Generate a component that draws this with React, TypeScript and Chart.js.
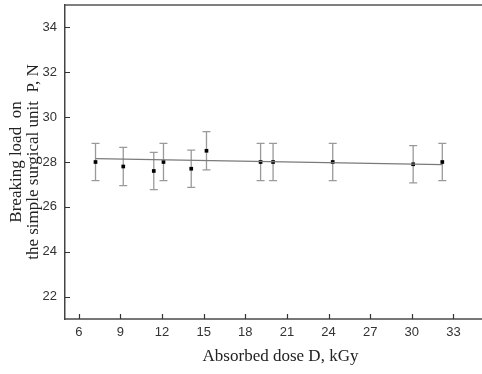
import React, { useEffect, useRef } from "react";
import { Chart, registerables } from "chart.js";

Chart.register(...registerables);

const doses = [7.2, 9.2, 11.4, 12.1, 14.1, 15.2, 19.1, 20.0, 24.3, 30.1, 32.2];
const loads = [28.0, 27.8, 27.6, 28.0, 27.7, 28.5, 28.0, 28.0, 28.0, 27.9, 28.0];
const errors = [0.83, 0.85, 0.83, 0.83, 0.83, 0.85, 0.83, 0.83, 0.83, 0.83, 0.83];
const fitX = [7.2, 32.2];
const fitY = [28.15, 27.88];
const xTicks = [6, 9, 12, 15, 18, 21, 24, 27, 30, 33];
const yTicks = [22, 24, 26, 28, 30, 32, 34];
const xTitle = "Absorbed dose D, kGy";
const yTitle = ["Breaking load  on", "the simple surgical unit  P, N"];

const decorPlugin = {
  id: "decor",
  beforeDatasetsDraw(chart: any) {
    const { ctx, scales } = chart;
    const x = scales.x;
    const y = scales.y;
    ctx.save();
    ctx.strokeStyle = "#9a9a9a";
    ctx.lineWidth = 1.3;
    doses.forEach((d, i) => {
      const px = x.getPixelForValue(d);
      const top = y.getPixelForValue(loads[i] + errors[i]);
      const bot = y.getPixelForValue(loads[i] - errors[i]);
      ctx.beginPath();
      ctx.moveTo(px, top);
      ctx.lineTo(px, bot);
      ctx.moveTo(px - 4, top);
      ctx.lineTo(px + 4, top);
      ctx.moveTo(px - 4, bot);
      ctx.lineTo(px + 4, bot);
      ctx.stroke();
    });
    ctx.restore();
  },
  afterDraw(chart: any) {
    const { ctx, chartArea, scales } = chart;
    const x = scales.x;
    const y = scales.y;
    ctx.save();
    ctx.strokeStyle = "#333";
    ctx.lineWidth = 1.2;
    ctx.beginPath();
    xTicks.forEach((t) => {
      const px = Math.round(x.getPixelForValue(t)) + 0.5;
      ctx.moveTo(px, chartArea.bottom);
      ctx.lineTo(px, chartArea.bottom - 5);
    });
    yTicks.forEach((t) => {
      const py = Math.round(y.getPixelForValue(t)) + 0.5;
      ctx.moveTo(chartArea.left, py);
      ctx.lineTo(chartArea.left + 5, py);
    });
    ctx.stroke();
    ctx.strokeStyle = "#555";
    ctx.lineWidth = 1.5;
    ctx.beginPath();
    ctx.moveTo(chartArea.left, chartArea.top);
    ctx.lineTo(chartArea.right, chartArea.top);
    ctx.stroke();
    ctx.restore();
  },
};

export default function App() {
  const ref = useRef<HTMLCanvasElement>(null);
  useEffect(() => {
    if (!ref.current) return;
    const chart = new Chart(ref.current, {
      type: "scatter",
      data: {
        datasets: [
          {
            type: "line",
            data: fitX.map((v, i) => ({ x: v, y: fitY[i] })),
            borderColor: "#7a7a7a",
            borderWidth: 1.2,
            pointRadius: 0,
            fill: false,
          },
          {
            data: doses.map((v, i) => ({ x: v, y: loads[i] })),
            pointStyle: "rect",
            pointRadius: 2.6,
            backgroundColor: "#000",
            borderColor: "#000",
            borderWidth: 0,
          },
        ],
      },
      options: {
        animation: false,
        responsive: false,
        layout: { padding: { top: 5, right: 0, left: 0, bottom: 0 } },
        plugins: { legend: { display: false }, tooltip: { enabled: false } },
        scales: {
          x: {
            type: "linear",
            min: 5,
            max: 5 + 435 / 14,
            afterBuildTicks: (s: any) => {
              s.ticks = xTicks.map((v) => ({ value: v }));
            },
            afterFit: (s: any) => {
              s.height = 55;
              s.paddingLeft = 0;
              s.paddingRight = 0;
            },
            grid: { display: false, drawTicks: false },
            border: { display: true, color: "#777", width: 2 },
            ticks: {
              padding: 6,
              color: "#333",
              font: { family: "Liberation Sans", size: 13 },
            },
            title: {
              display: true,
              text: xTitle,
              color: "#222",
              font: { family: "Liberation Serif", size: 17, lineHeight: 1 },
              padding: { top: 0, bottom: 8.5 },
            },
          },
          y: {
            type: "linear",
            min: 21,
            max: 35,
            afterBuildTicks: (s: any) => {
              s.ticks = yTicks.map((v) => ({ value: v }));
            },
            afterFit: (s: any) => {
              s.width = 65;
              s.paddingTop = 0;
              s.paddingBottom = 0;
            },
            grid: { display: false, drawTicks: false },
            border: { display: true, color: "#444", width: 1.5 },
            ticks: {
              padding: 8,
              color: "#333",
              font: { family: "Liberation Sans", size: 13 },
            },
            title: {
              display: true,
              text: yTitle,
              color: "#222",
              font: { family: "Liberation Serif", size: 17, lineHeight: 1 },
              padding: { top: 8, bottom: 0 },
            },
          },
        },
      },
      plugins: [decorPlugin],
    });
    return () => chart.destroy();
  }, []);
  return (
    <div
      style={{
        position: "absolute",
        left: 0,
        top: 0,
        width: 482,
        height: 374,
        overflow: "hidden",
        background: "#fff",
      }}
    >
      <canvas ref={ref} width={500} height={374} />
    </div>
  );
}
